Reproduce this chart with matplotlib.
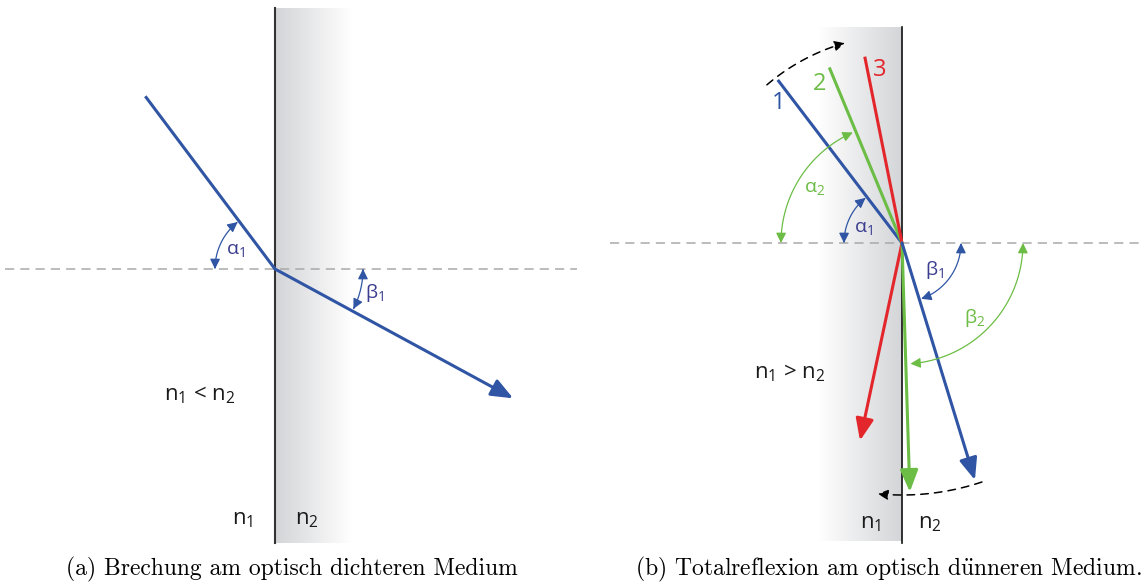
import matplotlib
matplotlib.use('Agg')
import matplotlib.pyplot as plt
import numpy as np
from matplotlib.patches import FancyArrowPatch
from matplotlib.path import Path
from matplotlib.colors import LinearSegmentedColormap

plt.rcParams['mathtext.fontset'] = 'custom'
plt.rcParams['mathtext.rm'] = 'Open Sans'
plt.rcParams['mathtext.it'] = 'Open Sans'

# Farben
blau = '#2f55a4'
blau_txt = '#3b3d8f'
gruen = '#6cbd45'
rot = '#e2262b'
grau = '#a9a9a9'

# (a) Brechung: Winkel gegen die Horizontale (Grad), Laengen in Pixel
a_origin = (275, 269)
a_winkel = [126.9, -28.5]          # einfallend, gebrochen
a_laenge = [216, 271]
a_boegen = [(60, 180, 128.5, r'α$_1$', (235, 250)), (88, 0, -27, r'β$_1$', (375, 293))]

# (b) Totalreflexion
b_origin = (902, 243)
b_namen = ['1', '2', '3']
b_farben = [blau, gruen, rot]
b_ein = [127.3, 112.5, 101.3]
b_ein_len = [205, 190, 190]
b_aus = [-72.9, -88.2, -102.0]
b_aus_len = [248, 249, 202]
b_name_pos = [(779, 103), (820, 84), (880, 70)]
b_boegen = [(58, 180, 129, blau, r'α$_1$', (863, 228), blau_txt),
            (121, 180, 114, gruen, r'α$_2$', (815, 188), gruen),
            (59, 0, -71, blau, r'β$_1$', (935, 270), blau_txt),
            (121, 0, -86, gruen, r'β$_2$', (975, 318), gruen)]

fig = plt.figure(figsize=(11.42, 5.82), dpi=100)
ax = fig.add_axes([0, 0, 1, 1])
ax.set_xlim(0, 1142)
ax.set_ylim(582, 0)
ax.axis('off')

cmap = LinearSegmentedColormap.from_list('g', ['#d4d5d8', '#ffffff'])
ax.imshow(np.linspace(0, 1, 200)[None, :], cmap=cmap, extent=(276, 352, 543, 8), aspect='auto', zorder=0)
ax.imshow(np.linspace(1, 0, 200)[None, :], cmap=cmap, extent=(818, 902, 541, 27), aspect='auto', zorder=0)


def punkt(o, w, l):
    return (o[0] + l * np.cos(np.radians(w)), o[1] - l * np.sin(np.radians(w)))


def bogen(o, r, w0, w1, farbe, stil='<|-|>', ls='-', lw=0.9):
    w = np.radians(np.linspace(w0, w1, 60))
    p = np.column_stack([o[0] + r * np.cos(w), o[1] - r * np.sin(w)])
    ax.add_patch(FancyArrowPatch(path=Path(p), arrowstyle=stil + ',head_length=0.6,head_width=0.3',
                                 mutation_scale=10, color=farbe, lw=lw, linestyle=ls, zorder=4))


def strahl(p0, p1, farbe, pfeil=False):
    if pfeil:
        ax.annotate('', xy=p1, xytext=p0,
                    arrowprops=dict(arrowstyle='-|>,head_length=1.1,head_width=0.45', color=farbe,
                                    lw=2.2, shrinkA=0, shrinkB=0, mutation_scale=12), zorder=3)
    else:
        ax.plot([p0[0], p1[0]], [p0[1], p1[1]], color=farbe, lw=2.2, solid_capstyle='butt', zorder=3)


lab = dict(family='Open Sans', ha='center', va='center')

# ---- (a) ----
ax.plot([5, 577], [269, 269], color=grau, lw=1.1, dashes=(6, 4), zorder=1)
ax.plot([275, 275], [8, 543], color='#333333', lw=1.5, zorder=2)
strahl(punkt(a_origin, a_winkel[0], a_laenge[0]), a_origin, blau)
strahl(a_origin, punkt(a_origin, a_winkel[1], a_laenge[1]), blau, pfeil=True)
for r, w0, w1, t, pos in a_boegen:
    bogen(a_origin, r, w0, w1, blau)
    ax.text(pos[0], pos[1], t, color=blau_txt, fontsize=14, **lab)
ax.text(200, 395, r'n$_1$ < n$_2$', color='#1a1a1a', fontsize=16, **lab)
ax.text(243, 519, r'n$_1$', color='#1a1a1a', fontsize=16, **lab)
ax.text(307, 519, r'n$_2$', color='#1a1a1a', fontsize=16, **lab)

# ---- (b) ----
ax.plot([610, 1142], [243, 243], color=grau, lw=1.1, dashes=(6, 4), zorder=1)
ax.plot([902, 902], [27, 543], color='#111111', lw=1.2, zorder=2)
for i in range(3):
    strahl(punkt(b_origin, b_ein[i], b_ein_len[i]), b_origin, b_farben[i])
for i in [2, 1, 0]:
    strahl(b_origin, punkt(b_origin, b_aus[i], b_aus_len[i]), b_farben[i], pfeil=True)
for i in range(3):
    ax.text(b_name_pos[i][0], b_name_pos[i][1], b_namen[i], color=b_farben[i], fontsize=17, **lab)
for r, w0, w1, f, t, pos, tf in b_boegen:
    bogen(b_origin, r, w0, w1, f)
    ax.text(pos[0], pos[1], t, color=tf, fontsize=14, **lab)

bogen(b_origin, 208, 130.5, 106, 'black', stil='-|>', ls=(0, (5, 4)), lw=1.1)
bogen(b_origin, 252, -71.5, -95.5, 'black', stil='-|>', ls=(0, (5, 4)), lw=1.1)

ax.text(790, 373, r'n$_1$ > n$_2$', color='#1a1a1a', fontsize=16, **lab)
ax.text(871, 523, r'n$_1$', color='#1a1a1a', fontsize=16, **lab)
ax.text(930, 523, r'n$_2$', color='#1a1a1a', fontsize=16, **lab)

# Bildunterschriften
cap = dict(family=['cmr10', 'DejaVu Serif'], fontsize=17, ha='center', va='center', color='black',
           math_fontfamily='cm')
ax.text(292, 569, '(a) Brechung am optisch dichteren Medium', **cap)
ax.text(888, 569, r'(b) Totalreflexion am optisch d$\ddot{\mathrm{u}}$nneren Medium.', **cap)

plt.savefig('out.png', dpi=100)
